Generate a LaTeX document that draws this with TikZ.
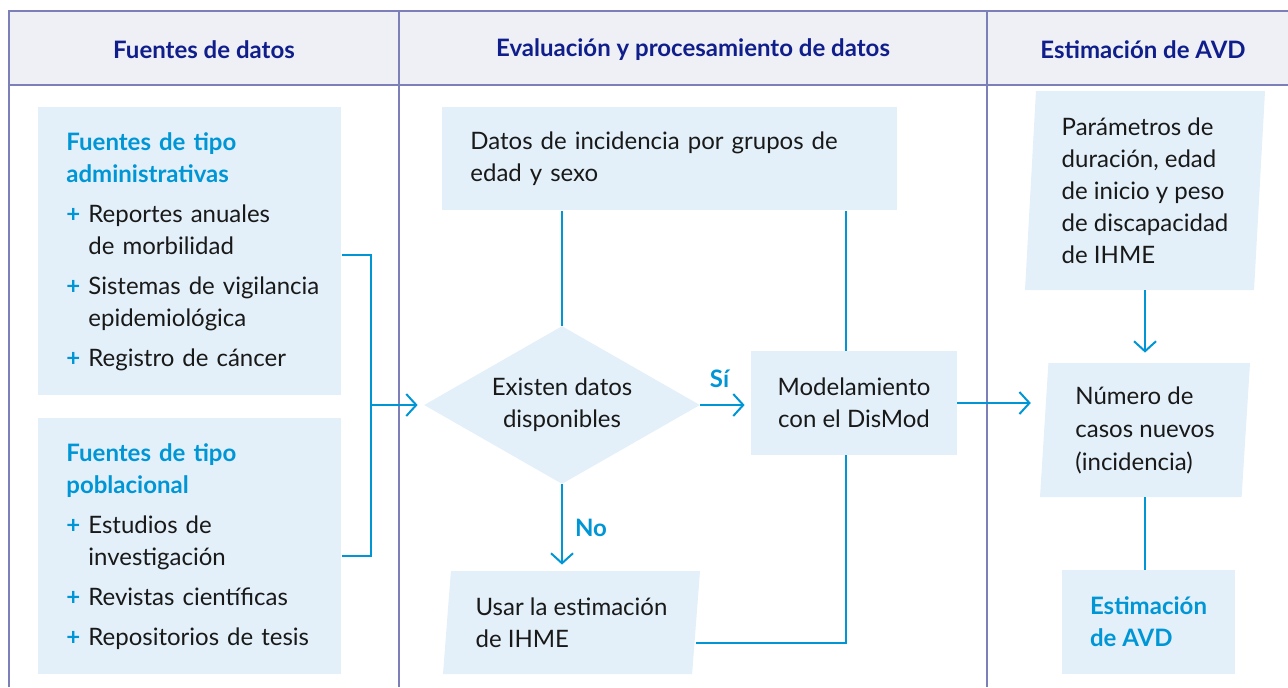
\documentclass[tikz,border=0pt]{standalone}
\usepackage{fontspec}
\setmainfont{Lato}
\usetikzlibrary{shapes.geometric, arrows.meta, positioning}

\definecolor{framec}{RGB}{125,128,184}
\definecolor{headc}{RGB}{238,240,245}
\definecolor{boxc}{RGB}{227,240,249}
\definecolor{flowc}{RGB}{0,150,214}
\definecolor{navyc}{RGB}{16,30,140}
\definecolor{txtc}{RGB}{25,25,25}

\newcommand{\srctitle}[1]{{\bfseries\color{flowc}#1}}
\newcommand{\srcitem}[1]{\par\vspace{4pt}\noindent\makebox[11pt][l]{\textcolor{flowc}{\bfseries +}}\mbox{#1}}
\newcommand{\srcmore}[1]{\\\hspace*{11pt}\mbox{#1}}

\begin{document}
\begin{tikzpicture}[x=0.5pt, y=-0.5pt,
  frame/.style={draw=framec, line width=0.7pt},
  head/.style={text=navyc, font=\fontsize{12}{16}\selectfont\bfseries},
  txt/.style={text=txtc, font=\fontsize{12}{16}\selectfont},
  srcbox/.style={txt, rectangle, fill=boxc, text width=123.5pt, inner xsep=14pt, inner ysep=0pt, align=left},
  stepbox/.style={txt, rectangle, fill=boxc, inner sep=0pt},
  slantbox/.style={txt, trapezium, fill=boxc, inner sep=0pt, align=left, trapezium stretches body},
  decbox/.style={txt, diamond, fill=boxc, inner sep=0pt, aspect=1.75, align=center},
  flow/.style={draw=flowc, line width=1pt},
  flowarr/.style={flow, -{Straight Barb[length=5pt, width=11pt, line width=1pt]}, shorten >=3pt},
  lbl/.style={text=flowc, font=\fontsize{12}{16}\selectfont\bfseries, inner sep=0pt}]

  \useasboundingbox (0,0) rectangle (1288,687);

  % table frame
  \fill[headc] (9,11) rectangle (1288,85);
  \draw[frame] (9,687) -- (9,11) -- (1288,11);
  \draw[frame] (9,85) -- (1288,85);
  \draw[frame] (399,11) -- (399,687);
  \draw[frame] (987,11) -- (987,687);

  \node[head] (h1) at (204,50) {Fuentes de datos};
  \node[head] (h2) at (693,50) {Evaluación y procesamiento de datos};
  \node[head] (h3) at (1143,50) {Estimación de AVD};

  % data sources
  \node[srcbox, minimum height=144pt, anchor=north west] (admin) at (38,107)
    {\srctitle{Fuentes de tipo\\administrativas}
     \srcitem{Reportes anuales}\srcmore{de morbilidad}
     \srcitem{Sistemas de vigilancia}\srcmore{epidemiológica}
     \srcitem{Registro de cáncer}};
  \node[srcbox, minimum height=128pt, anchor=north west] (pobl) at (38,418)
    {\srctitle{Fuentes de tipo\\poblacional}
     \srcitem{Estudios de}\srcmore{investigación}
     \srcitem{Revistas científicas}
     \srcitem{Repositorios de tesis}};

  % evaluation
  \node[srcbox, text width=199.5pt, minimum height=51.5pt, anchor=north west] (inc) at (442,107)
    {Datos de incidencia por grupos de\\edad y sexo};
  \node[decbox, minimum width=138pt, minimum height=79pt] (dec) at (562,405)
    {Existen datos\\disponibles};
  \node[stepbox, minimum width=103pt, minimum height=52pt, align=center] (model) at (854,403)
    {Modelamiento\\con el DisMod};
  \node[slantbox, trapezium left angle=81, trapezium right angle=99,
    minimum width=128.5pt, minimum height=51.5pt] (usar) at (571.5,622.5)
    {Usar la estimación\\de IHME};

  % estimation
  \node[slantbox, trapezium left angle=85.7, trapezium right angle=94.3,
    minimum width=120pt, minimum height=99.5pt] (par) at (1145,190.5)
    {Parámetros de\\duración, edad\\de inicio y peso\\de discapacidad\\de IHME};
  \node[slantbox, trapezium left angle=84.5, trapezium right angle=95.5,
    minimum width=105pt, minimum height=67pt, font=\fontsize{12}{16.5}\selectfont] (num) at (1145,430)
    {Número de\\casos nuevos\\(incidencia)};
  \node[stepbox, minimum width=86.5pt, minimum height=52pt, align=left,
    text=flowc, font=\fontsize{12}{16}\selectfont\bfseries] (est) at (1148.5,622)
    {Estimación\\de AVD};

  % connectors
  \coordinate (bus) at (371,405);
  \draw[flow] ([yshift=-2pt]admin.east) -| (bus);
  \draw[flow] ([yshift=-5pt]pobl.east) -| (bus);
  \draw[flowarr] (bus) -- (dec.west);

  \draw[flow] (inc.south -| dec.north) -- (dec.north);
  \draw[flow] ([xshift=-4pt]model.north) -- ([xshift=-4pt]model.north |- inc.south);

  \draw[flowarr] (dec.east) -- (dec.east -| model.west) node[lbl, midway, above=8pt, xshift=-3pt] (si) {Sí};
  \draw[flowarr] (dec.south) -- (dec.south |- usar.north) node[lbl, midway, right=6pt] (no) {No};
  \draw[flow] ([yshift=-10pt]usar.east) -| ([xshift=-4pt]model.south);

  \draw[flowarr, shorten >=6.5pt] (model.east) -- (model.east -| num.west);
  \draw[flowarr, shorten >=5pt] (par.center |- par.south) -- (par.center |- num.north);
  \draw[flow] (num.center |- num.south) -- (num.center |- est.north);
\end{tikzpicture}
\end{document}
